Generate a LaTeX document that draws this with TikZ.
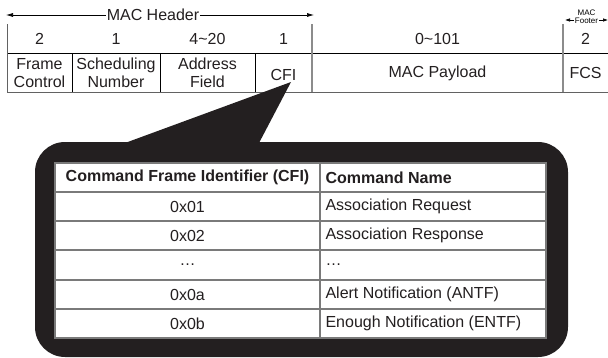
\documentclass[tikz,border=0pt]{standalone}
\usepackage{fontspec}
\setmainfont{Liberation Sans}
\usetikzlibrary{arrows.meta,fit}
\definecolor{calloutblack}{HTML}{231F20}
\definecolor{rulegray}{HTML}{8C8C8C}
\definecolor{cellgray}{HTML}{7A7A7A}

\tikzset{
  cellfont/.style={font=\fontsize{16}{18}\selectfont},
  headfont/.style={font=\fontsize{16}{18}\selectfont\bfseries},
  tinyfont/.style={font=\fontsize{8}{8}\selectfont},
  fieldtext/.style={cellfont, text=calloutblack, inner sep=0pt, align=center},
  spanarrow/.style={{Latex[length=7pt,width=4pt]}-{Latex[length=7pt,width=4pt]}, line width=0.7pt},
}

\begin{document}
\begin{tikzpicture}[x=1pt, y=-1pt,
    every fit/.style={inner sep=0pt, outer sep=0pt, draw=cellgray, line width=1.2pt},
    every label/.style={cellfont, text=calloutblack}]
  \useasboundingbox (0,0) rectangle (608,357);
  % MAC frame
  \draw[black, line width=0.8pt] (7,53) -- (608,53);
  \draw[rulegray!70!black, line width=1pt] (7,92) -- (608,92);
  \draw[rulegray!70!black, line width=1pt] (7,24) -- (7,92);
  \foreach \x in {72,160,255} \draw[black, line width=0.8pt] (\x,53) -- (\x,92);
  \draw[rulegray, line width=1.8pt] (312,24) -- (312,92);
  \draw[rulegray, line width=1.8pt] (563,24) -- (563,92);

  \coordinate (hdrL) at (6,15);
  \coordinate (hdrR) at (314,15);
  \draw[spanarrow] (hdrL) -- (hdrR);
  \node (hdr) [fieldtext, fill=white, inner xsep=1pt] at (153,15) {MAC Header};

  \coordinate (ftrL) at (565,20);
  \coordinate (ftrR) at (608,20);
  \draw[{Latex[length=5pt,width=3.5pt]}-{Latex[length=5pt,width=3.5pt]}, line width=0.6pt] (ftrL) -- (ftrR);
  \node (ftr) [tinyfont, fill=white, inner sep=0.5pt] at (586.5,20.5) {Footer};
  \node (ftrmac) [tinyfont, inner sep=0pt] at (586.5,13) {MAC};

  \node (lenfc)  [fieldtext] at (39.5,39)  {2};
  \node (lensn)  [fieldtext] at (116,39)   {1};
  \node (lenaf)  [fieldtext] at (207.5,39) {4\textasciitilde20};
  \node (lencfi) [fieldtext] at (283.5,39) {1};
  \node (lenpl)  [fieldtext] at (437.5,39) {0\textasciitilde101};
  \node (lenfcs) [fieldtext] at (585.5,39) {2};

  \node (fc)  [fieldtext] at (39.5,73)  {Frame\\Control};
  \node (sn)  [fieldtext] at (116,73)   {Scheduling\\Number};
  \node (af)  [fieldtext] at (207.5,73) {Address\\Field};
  \node (cfi) [fieldtext] at (283.5,75) {CFI};
  \node (pl)  [fieldtext] at (437.5,73) {MAC Payload};
  \node (fcs) [fieldtext] at (585.5,73) {FCS};

  % callout
  \fill[calloutblack, rounded corners=30pt] (35,142) rectangle (568,357);
  \fill[calloutblack] (125,143) -- (291,82) -- (259,143) -- cycle;
  \fill[white] (55,163) rectangle (546,338);

  % CFI table
  \begin{scope}
    \node (idhd) [fit={(55,163) (320,192)}, label={[headfont]center:{Command Frame Identifier (CFI)}}] {};
    \node (nmhd) [fit={(320,163) (546,192)}, label={[headfont, anchor=west, xshift=2pt]west:{Command Name}}] {};
    \node (id1)  [fit={(55,192) (320,221)}, label=center:{0x01}] {};
    \node (nm1)  [fit={(320,192) (546,221)}, label={[anchor=west, xshift=2pt]west:{Association Request}}] {};
    \node (id2)  [fit={(55,221) (320,250)}, label=center:{0x02}] {};
    \node (nm2)  [fit={(320,221) (546,250)}, label={[anchor=west, xshift=2pt]west:{Association Response}}] {};
    \node (id3)  [fit={(55,250) (320,280)}, label=center:{\ldots}] {};
    \node (nm3)  [fit={(320,250) (546,280)}, label={[anchor=west, xshift=2pt]west:{\ldots}}] {};
    \node (idA)  [fit={(55,280) (320,309)}, label=center:{0x0a}] {};
    \node (nmA)  [fit={(320,280) (546,309)}, label={[anchor=west, xshift=2pt]west:{Alert Notification (ANTF)}}] {};
    \node (idB)  [fit={(55,309) (320,338)}, label=center:{0x0b}] {};
    \node (nmB)  [fit={(320,309) (546,338)}, label={[anchor=west, xshift=2pt]west:{Enough Notification (ENTF)}}] {};
  \end{scope}
\end{tikzpicture}
\end{document}
